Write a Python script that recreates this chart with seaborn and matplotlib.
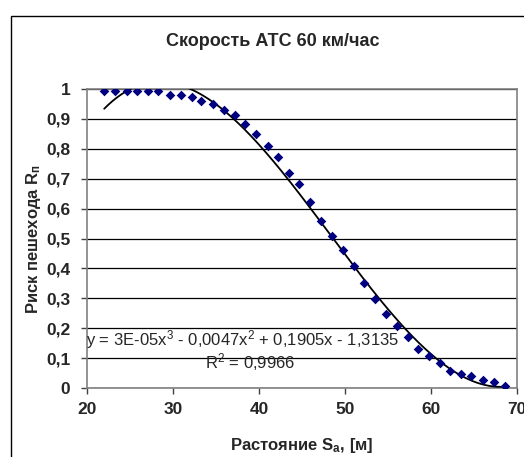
import numpy as np
import pandas as pd
import matplotlib
matplotlib.use("Agg")
import matplotlib.pyplot as plt
import matplotlib.transforms as mtrans
import seaborn as sns
from matplotlib.patches import Rectangle

# ---- data ----
distance = [22.0, 23.3, 24.6, 25.8, 27.1, 28.3, 29.6, 30.9, 32.2, 33.3,
            34.6, 35.9, 37.2, 38.4, 39.7, 41.0, 42.2, 43.5, 44.7, 45.9,
            47.2, 48.5, 49.8, 51.0, 52.2, 53.5, 54.8, 56.0, 57.3, 58.5,
            59.8, 61.0, 62.2, 63.5, 64.7, 66.0, 67.3, 68.6]
risk = [0.992, 0.992, 0.992, 0.992, 0.992, 0.992, 0.981, 0.981, 0.972, 0.960,
        0.950, 0.931, 0.912, 0.882, 0.851, 0.809, 0.772, 0.719, 0.682, 0.621,
        0.560, 0.509, 0.460, 0.408, 0.350, 0.297, 0.247, 0.207, 0.170, 0.129,
        0.108, 0.082, 0.058, 0.048, 0.039, 0.027, 0.019, 0.007]
x_ticks = [20, 30, 40, 50, 60, 70]
y_ticks = [0, 0.1, 0.2, 0.3, 0.4, 0.5, 0.6, 0.7, 0.8, 0.9, 1.0]
y_tick_labels = ["0", "0,1", "0,2", "0,3", "0,4", "0,5", "0,6", "0,7", "0,8", "0,9", "1"]
title = "Скорость АТС 60 км/час"
equation = r"y = 3E-05x$^{\mathrm{3}}$ - 0,0047x$^{\mathrm{2}}$ + 0,1905x - 1,3135"
r2_text = r"R$^{\mathrm{2}}$ = 0,9966"

sns.set_theme(style="white")
plt.rcParams["font.family"] = ["Liberation Sans", "DejaVu Sans"]
plt.rcParams["mathtext.fontset"] = "custom"
plt.rcParams["mathtext.rm"] = "Liberation Sans"
plt.rcParams["mathtext.it"] = "Liberation Sans:italic"
plt.rcParams["mathtext.bf"] = "Liberation Sans:bold"

df = pd.DataFrame({"x": distance, "y": risk})
coef = np.polyfit(df["x"], df["y"], 3)
xs = np.linspace(min(distance), max(distance), 200)
trend = pd.DataFrame({"x": xs, "y": np.polyval(coef, xs)})

W, H = 524, 457
fig = plt.figure(figsize=(W / 100, H / 100), dpi=100)
fig.patch.set_facecolor("white")
ax = fig.add_axes([87 / W, 1 - 388 / H, (517 - 87) / W, (388 - 89) / H])

# outer chart frame (clipped by the image edges)
fig.patches.append(Rectangle((11 / W, -0.05), 1.2, 1 - 15.5 / H + 0.05,
                             transform=fig.transFigure, fill=False,
                             edgecolor="black", linewidth=1.0, zorder=0))

for yv in y_ticks:
    ax.axhline(yv, color="black", linewidth=0.9, zorder=1)

sns.lineplot(data=trend, x="x", y="y", ax=ax, color="black", linewidth=1.3,
             zorder=3, sort=False)
sns.scatterplot(data=df, x="x", y="y", ax=ax, marker="D", s=24,
                color="#000080", edgecolor="#000080", linewidth=0, zorder=4)

ax.set_xlim(20, 70)
ax.set_ylim(0, 1)
ax.set_xticks(x_ticks)
ax.set_xticklabels([str(v) for v in x_ticks], fontweight="bold", fontsize=12.5)
ax.set_yticks(y_ticks)
ax.set_yticklabels(y_tick_labels, fontweight="bold", fontsize=12.5)
ax.tick_params(axis="both", direction="out", length=4, width=1, color="#404040",
               bottom=True, left=True)
ax.tick_params(axis="y", pad=8)
ax.tick_params(axis="x", pad=6)
for s in ax.spines.values():
    s.set_color("#808080")
    s.set_linewidth(1.2)

ax.set_xlabel(r"Растояние S$_{\mathbf{а}}$, [м]", fontweight="bold", fontsize=12, labelpad=14)
ax.set_ylabel(r"Риск пешехода R$_{\mathbf{п}}$", fontweight="bold", fontsize=12, labelpad=2)

fig.text(273 / W, 1 - 42 / H, title, ha="center", va="center",
         fontweight="bold", fontsize=13)

ident = mtrans.IdentityTransform()
ax.text(243, H - 340, equation, transform=ident, ha="center", va="center", fontsize=12)
ax.text(250, H - 362, r2_text, transform=ident, ha="center", va="center", fontsize=12)

fig.savefig("out.png", dpi=100, facecolor="white")
